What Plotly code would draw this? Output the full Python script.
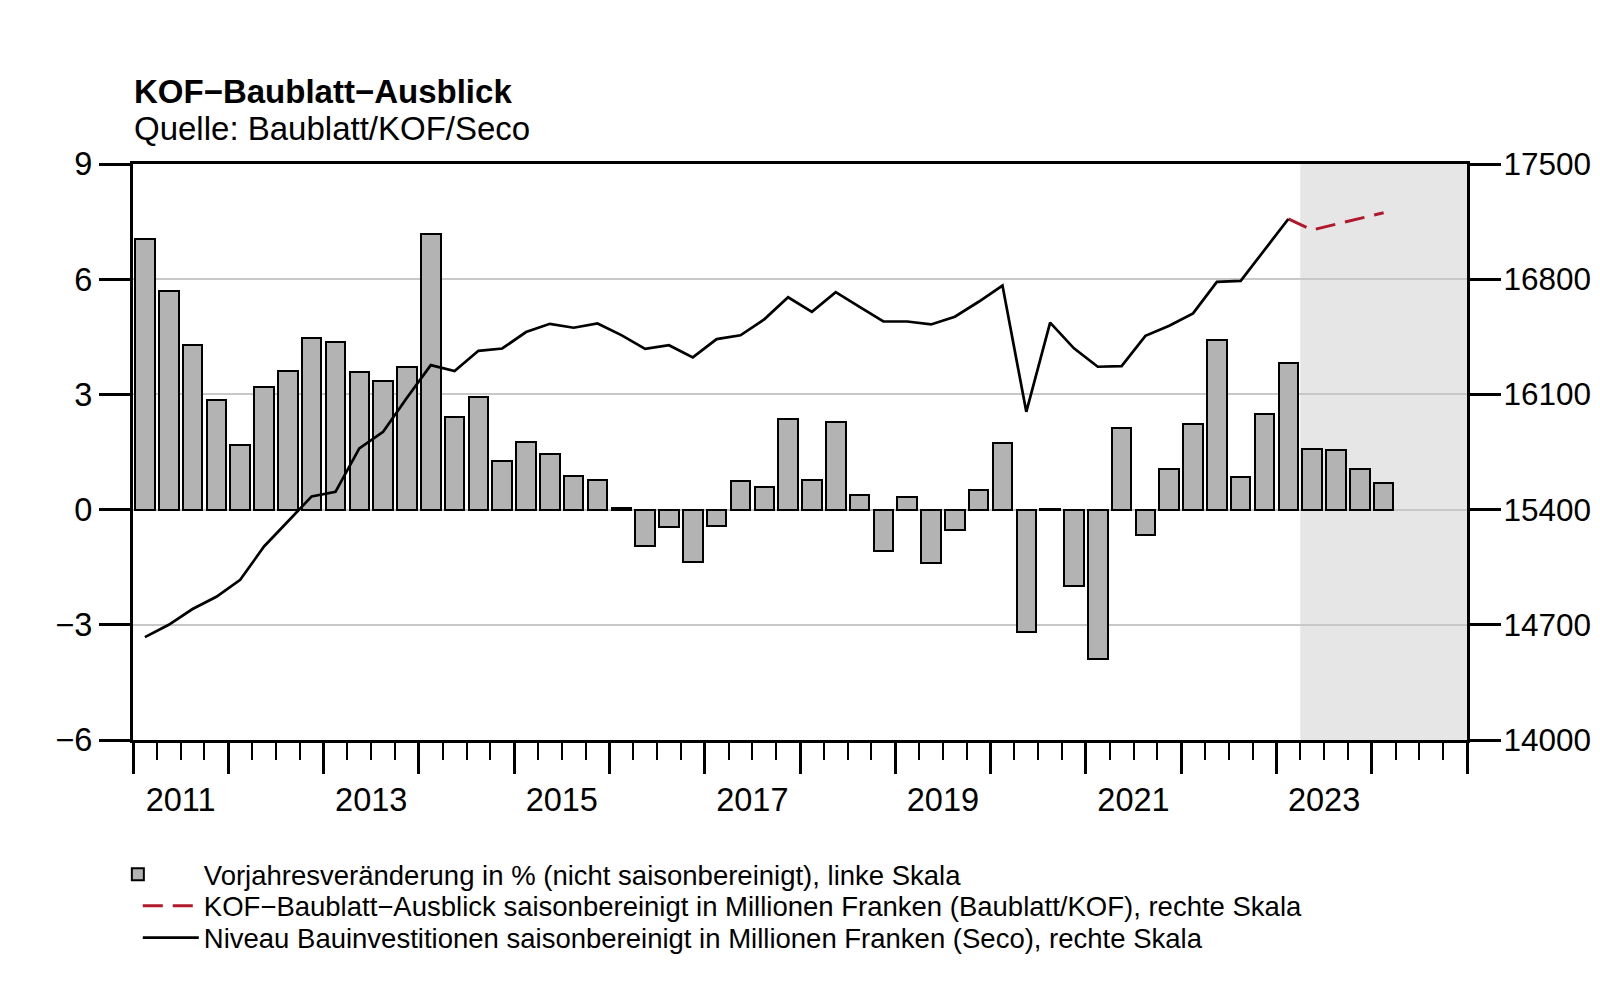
import plotly.graph_objects as go

# ---------------- data ----------------
years = list(range(2011, 2025))
quarters = [f"{y}Q{q}" for y in years for q in range(1, 5)]

bar_quarters = quarters[:53]          # 2011Q1 .. 2024Q1
yoy_change = [7.04, 5.69, 4.28, 2.86, 1.68, 3.20, 3.62, 4.47,
              4.36, 3.59, 3.36, 3.71, 7.17, 2.40, 2.93, 1.27,
              1.75, 1.45, 0.87, 0.77, 0.05, -0.96, -0.46, -1.36,
              -0.42, 0.74, 0.59, 2.37, 0.77, 2.28, 0.38, -1.09,
              0.33, -1.40, -0.52, 0.51, 1.74, -3.20, 0.02, -1.99,
              -3.88, 2.13, -0.65, 1.05, 2.24, 4.41, 0.86, 2.48,
              3.82, 1.58, 1.55, 1.07, 0.70]

seco_quarters = quarters[:49]         # 2011Q1 .. 2023Q1
seco_level = [14625, 14700, 14796, 14870, 14973, 15176, 15328, 15480,
              15508, 15772, 15873, 16080, 16278, 16242, 16365, 16379,
              16479, 16529, 16505, 16531, 16460, 16377, 16399, 16325,
              16436, 16459, 16556, 16690, 16602, 16721, 16632, 16543,
              16543, 16525, 16572, 16663, 16761, 15994, 16536, 16380,
              16268, 16272, 16456, 16517, 16592, 16784, 16790, 16977,
              17166]

kof_quarters = quarters[48:53]        # 2023Q1 .. 2024Q1
kof_outlook = [17166, 17099, 17134, 17169, 17204]

forecast_start = "2023Q2"
left_ticks = [-6, -3, 0, 3, 6, 9]
left_ticktext = ["\u22126", "\u22123", "0", "3", "6", "9"]
right_ticks = [14000, 14700, 15400, 16100, 16800, 17500]
right_ticktext = ["14000", "14700", "15400", "16100", "16800", "17500"]
year_labels = ["2011", "2013", "2015", "2017", "2019", "2021", "2023"]

title = "KOF\u2212Baublatt\u2212Ausblick"
subtitle = "Quelle: Baublatt/KOF/Seco"
legend_names = [
    "Vorjahresver\u00e4nderung in % (nicht saisonbereinigt), linke Skala",
    "KOF\u2212Baublatt\u2212Ausblick saisonbereinigt in Millionen Franken (Baublatt/KOF), rechte Skala",
    "Niveau Bauinvestitionen saisonbereinigt in Millionen Franken (Seco), rechte Skala",
]


# ---------------- helpers ----------------
def q_center(label):
    y, q = int(label[:4]), int(label[-1])
    return y + (q - 1) / 4 + 0.125


def q_start(label):
    y, q = int(label[:4]), int(label[-1])
    return y + (q - 1) / 4


FONT = "Liberation Sans, Arial, Helvetica, sans-serif"
BIG = 33
TICK = 32.5
RTICK = 31.5
LEG = 27.5
x0, x1 = years[0], years[-1] + 1

# the page body adds an 8px offset; work in page pixels and convert
OFF = 8
W, H = 1600 - OFF, 1004 - 2 * OFF
PL, PR, PT, PB = 132.5, 1467.5, 163.5, 740.0     # plot box in page pixels
L, R, T, B = PL - OFF, W - (PR - OFF), PT - OFF, H - (PB - OFF)
plot_w = PR - PL
plot_h = PB - PT


def ypaper(px):
    return (PB - px) / plot_h


def xpaper(px):
    return (px - PL) / plot_w


fig = go.Figure()

fig.add_trace(go.Bar(
    x=[q_center(q) for q in bar_quarters], y=yoy_change,
    width=0.205,
    marker=dict(color="#b3b3b3", line=dict(color="black", width=2)),
    name=legend_names[0], legend="legend",
))

fig.add_trace(go.Scatter(
    x=[q_center(q) for q in kof_quarters], y=kof_outlook, yaxis="y2",
    mode="lines", line=dict(color="#b2182b", width=3, dash="20px,10px"),
    name=legend_names[1], legend="legend2",
))

fig.add_trace(go.Scatter(
    x=[q_center(q) for q in seco_quarters], y=seco_level, yaxis="y2",
    mode="lines", line=dict(color="black", width=2.7),
    name=legend_names[2], legend="legend3",
))

# empty trace so the label axis is drawn
fig.add_trace(go.Scatter(x=[], y=[], xaxis="x2", showlegend=False, hoverinfo="skip"))

fig.add_shape(type="rect", xref="x", yref="y domain",
              x0=q_start(forecast_start), x1=x1, y0=0, y1=1,
              fillcolor="#e6e6e6", line=dict(width=0), layer="below")

leg_common = dict(xanchor="left", yanchor="middle", bgcolor="rgba(0,0,0,0)",
                  borderwidth=0, font=dict(family=FONT, size=LEG, color="black"),
                  tracegroupgap=0)

BAR_IW = 122
LINE_IW = 56
TEXT_X = 206

fig.update_layout(
    width=W, height=H,
    margin=dict(l=L, r=R, t=T, b=B, autoexpand=False),
    paper_bgcolor="white", plot_bgcolor="white",
    font=dict(family=FONT, size=BIG, color="black"),
    showlegend=True,
    bargap=0,
    xaxis=dict(
        range=[x0, x1], tickmode="array", tickvals=list(range(x0, x1 + 1)),
        ticks="outside", ticklen=31, tickwidth=3, tickcolor="black",
        showticklabels=False, showgrid=False, zeroline=False,
        showline=True, linewidth=3.2, linecolor="black", mirror=True,
        minor=dict(dtick=0.25, tick0=x0, ticks="outside", ticklen=17,
                   tickwidth=2, tickcolor="black", showgrid=False),
    ),
    xaxis2=dict(
        range=[x0, x1], overlaying="x", anchor="y", side="bottom",
        tickmode="array", tickvals=[int(y) + 0.5 for y in year_labels],
        ticktext=year_labels, ticks="", showline=False, showgrid=False,
        zeroline=False, ticklabelstandoff=37,
        tickfont=dict(family=FONT, size=TICK, color="black"),
    ),
    yaxis=dict(
        range=[left_ticks[0], left_ticks[-1]], tickmode="array",
        tickvals=left_ticks, ticktext=left_ticktext,
        ticks="outside", ticklen=31, tickwidth=3, tickcolor="black",
        ticklabelstandoff=0,
        showgrid=True, gridcolor="#c8c8c8", gridwidth=2,
        zeroline=True, zerolinecolor="#c8c8c8", zerolinewidth=2,
        showline=True, linewidth=3.2, linecolor="black",
        tickfont=dict(family=FONT, size=TICK, color="black"),
    ),
    yaxis2=dict(
        range=[right_ticks[0], right_ticks[-1]], tickmode="array",
        tickvals=right_ticks, ticktext=right_ticktext,
        overlaying="y", side="right",
        ticks="outside", ticklen=31, tickwidth=3, tickcolor="black",
        ticklabelstandoff=-4,
        showgrid=False, zeroline=False,
        showline=True, linewidth=3.2, linecolor="black",
        tickfont=dict(family=FONT, size=RTICK, color="black"),
    ),
    legend=dict(x=xpaper(TEXT_X - BAR_IW - 12.7), y=ypaper(874.5),
                itemwidth=BAR_IW, **leg_common),
    legend2=dict(x=xpaper(TEXT_X - LINE_IW - 12.7), y=ypaper(906),
                 itemwidth=LINE_IW, **leg_common),
    legend3=dict(x=xpaper(TEXT_X - LINE_IW - 12.7), y=ypaper(938),
                 itemwidth=LINE_IW, **leg_common),
    annotations=[
        dict(text="<b>" + title + "</b>", xref="paper", yref="paper",
             x=xpaper(131), y=ypaper(91), xanchor="left", yanchor="middle",
             showarrow=False, font=dict(family=FONT, size=BIG, color="black")),
        dict(text=subtitle, xref="paper", yref="paper",
             x=xpaper(131), y=ypaper(128), xanchor="left", yanchor="middle",
             showarrow=False, font=dict(family=FONT, size=BIG, color="black")),
    ],
)

fig.write_html("out.html")
